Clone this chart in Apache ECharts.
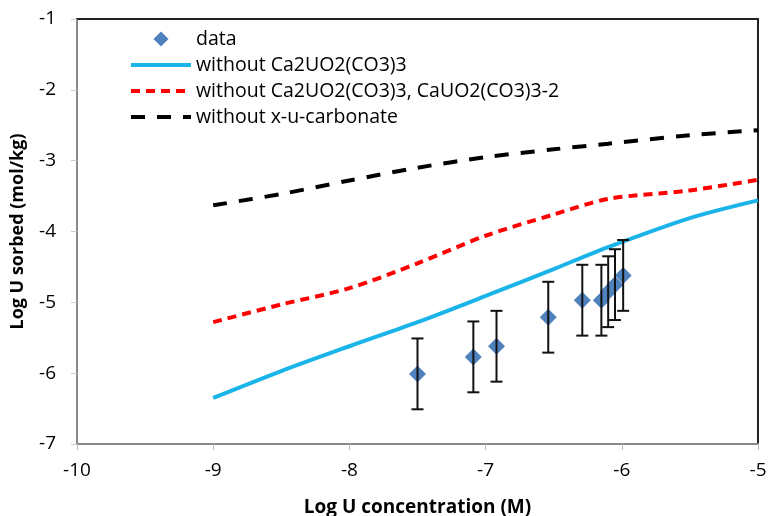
<!DOCTYPE html>
<html>
<head>
<meta charset="utf-8">
<script src="https://cdn.jsdelivr.net/npm/echarts@6/dist/echarts.min.js"></script>
<style>
  html, body {margin: 0; padding: 0; background: #fff;}
  #chart {width: 770px; height: 516px;}
</style>
</head>
<body>
<div id="chart"></div>
<script>
// measured data
const dataX = [-7.50, -7.09, -6.92, -6.54, -6.29, -6.15, -6.10, -6.05, -5.99]
const dataY = [-6.01, -5.77, -5.62, -5.21, -4.97, -4.97, -4.85, -4.75, -4.62]
const dataErr = [0.5, 0.5, 0.5, 0.5, 0.5, 0.5, 0.5, 0.5, 0.5]

// model curves
const modelX = [-9, -8.5, -8, -7.5, -7, -6.5, -6.1, -5.5, -5]
const noCa2 = [-6.35, -5.97, -5.62, -5.28, -4.91, -4.53, -4.22, -3.81, -3.56]
const noCa2Ca = [-5.28, -5.03, -4.80, -4.45, -4.06, -3.76, -3.54, -3.42, -3.27]
const noXuCarb = [-3.63, -3.47, -3.28, -3.10, -2.95, -2.84, -2.76, -2.64, -2.57]

const names = [
  'data',
  'without Ca2UO2(CO3)3',
  'without Ca2UO2(CO3)3, CaUO2(CO3)3-2',
  'without x-u-carbonate',
]

const font = 'Open Sans'
const pairs = (xs, ys) => xs.map((x, i) => [x, ys[i]])

const chart = echarts.init(document.getElementById('chart'))

const baseX = {
  type: 'value', min: -10, max: -5, interval: 1,
  splitLine: {show: false},
}
const baseY = {
  type: 'value', min: -7, max: -1, interval: 1,
  splitLine: {show: false},
}

chart.setOption({
  animation: false,
  textStyle: {fontFamily: font},
  grid: {left: 77, right: 12, top: 19, bottom: 72, outerBoundsMode: 'none'},
  legend: {
    orient: 'vertical',
    left: 124, top: 24,
    itemWidth: 60, itemHeight: 15, itemGap: 6,
    textStyle: {fontSize: 19.5, color: '#000', fontFamily: font},
    data: [
      {name: names[0], icon: 'path://M0,-1L1,0L0,1L-1,0Z'},
      // hide the symbol dot, keep just the line
      {name: names[1], itemStyle: {opacity: 0}, lineStyle: {width: 4}},
      {name: names[2], itemStyle: {opacity: 0}, lineStyle: {width: 4}},
      {name: names[3], itemStyle: {opacity: 0}, lineStyle: {width: 4}},
    ],
  },
  xAxis: [
    {
      ...baseX,
      position: 'bottom',
      name: 'Log U concentration (M)',
      nameLocation: 'middle', nameGap: 54,
      nameTextStyle: {fontSize: 19, fontWeight: 'bold', color: '#000'},
      axisLine: {onZero: false, lineStyle: {color: '#888', width: 2}},
      axisTick: {inside: false, length: 6, lineStyle: {color: '#bbb'}},
      axisLabel: {fontSize: 19, color: '#000', margin: 17},
    },
    {
      ...baseX,
      position: 'top',
      axisLine: {onZero: false, lineStyle: {color: '#222', width: 2}},
      axisTick: {show: false},
      axisLabel: {show: false},
    },
  ],
  yAxis: [
    {
      ...baseY,
      position: 'left',
      name: 'Log U sorbed (mol/kg)',
      nameLocation: 'middle', nameGap: 50,
      nameTextStyle: {fontSize: 18, fontWeight: 'bold', color: '#000'},
      axisLine: {onZero: false, lineStyle: {color: '#888', width: 2}},
      axisTick: {inside: false, length: 6, lineStyle: {color: '#ccc'}},
      axisLabel: {fontSize: 19, color: '#000', margin: 21},
    },
    {
      ...baseY,
      position: 'right',
      axisLine: {onZero: false, lineStyle: {color: '#222', width: 2}},
      axisTick: {show: false},
      axisLabel: {show: false},
    },
  ],
  series: [
    {
      name: names[1], type: 'line', smooth: 0.3, symbol: 'none',
      data: pairs(modelX, noCa2),
      lineStyle: {color: '#1BB4E8', width: 4},
      itemStyle: {color: '#1BB4E8'},
    },
    {
      name: names[2], type: 'line', smooth: 0.3, symbol: 'none',
      data: pairs(modelX, noCa2Ca),
      lineStyle: {color: '#F00', width: 4, type: [9, 6]},
      itemStyle: {color: '#F00'},
    },
    {
      name: names[3], type: 'line', smooth: 0.3, symbol: 'none',
      data: pairs(modelX, noXuCarb),
      lineStyle: {color: '#000', width: 4, type: [14, 12]},
      itemStyle: {color: '#000'},
    },
    {
      name: names[0], type: 'scatter', symbol: 'diamond', symbolSize: [17, 17],
      data: pairs(dataX, dataY),
      itemStyle: {color: '#4F81BD', opacity: 1},
      z: 3,
    },
    {
      name: 'err', type: 'custom', z: 4,
      data: dataX.map((x, i) => [x, dataY[i] - dataErr[i], dataY[i] + dataErr[i]]),
      renderItem(params, api) {
        const lo = api.coord([api.value(0), api.value(1)])
        const hi = api.coord([api.value(0), api.value(2)])
        const cap = 6
        const style = {stroke: '#111', lineWidth: 2}
        return {
          type: 'group',
          children: [
            {type: 'line', shape: {x1: lo[0], y1: lo[1], x2: hi[0], y2: hi[1]}, style},
            {type: 'line', shape: {x1: lo[0] - cap, y1: lo[1], x2: lo[0] + cap, y2: lo[1]}, style},
            {type: 'line', shape: {x1: hi[0] - cap, y1: hi[1], x2: hi[0] + cap, y2: hi[1]}, style},
          ],
        }
      },
    },
  ],
})
</script>
</body>
</html>
